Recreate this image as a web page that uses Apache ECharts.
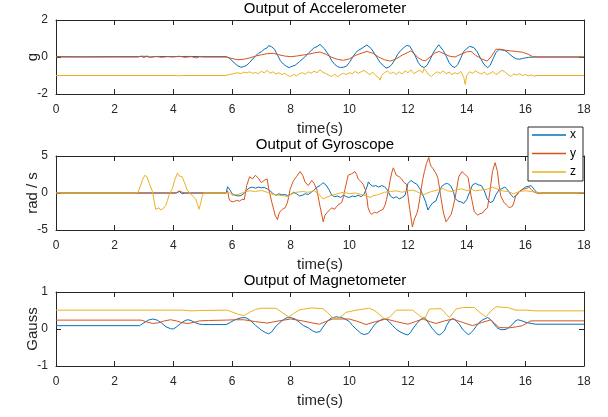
<!DOCTYPE html>
<html>
<head>
<meta charset="utf-8">
<script src="https://cdn.jsdelivr.net/npm/echarts@6/dist/echarts.min.js"></script>
<style>html,body{margin:0;padding:0;background:#fff;}#c{width:608px;height:417px;}</style>
</head>
<body>
<div id="c"></div>
<script>
// ---------- data: [time(s), value] ----------
const titles = ['Output of Accelerometer', 'Output of Gyroscope', 'Output of Magnetometer'];
const yNames = ['g', 'rad / s', 'Gauss'];
const seriesNames = ['x', 'y', 'z'];
const xTicks = [0, 18, 2];          // min, max, interval
const yRanges = [[-2, 2, 2], [-5, 5, 5], [-1, 1, 1]];

const accX = [[0,0.02],[1,0.01],[2,0.02],[2.8,0.02],[3,0.04],[3.2,0.0],[3.5,0.03],[4,0.02],[4.5,0.03],[5,0.02],[5.8,0.02],
[5.9,-0.05],[6.0,-0.2],[6.1,-0.35],[6.2,-0.48],[6.3,-0.55],[6.4,-0.52],[6.5,-0.45],[6.6,-0.3],[6.7,-0.12],[6.8,0.05],[6.9,0.2],[7.0,0.28],[7.1,0.42],[7.2,0.5],[7.25,0.62],[7.3,0.66],[7.35,0.55],[7.45,0.42],[7.55,0.1],[7.65,-0.2],[7.75,-0.38],[7.85,-0.5],[7.95,-0.57],[8.05,-0.5],[8.15,-0.45],[8.3,-0.25],[8.45,-0.05],[8.6,0.2],[8.7,0.35],[8.8,0.5],[8.9,0.56],[9.0,0.68],[9.05,0.6],[9.15,0.45],[9.3,0.1],[9.4,-0.2],[9.5,-0.4],[9.6,-0.52],[9.7,-0.57],[9.8,-0.55],[9.9,-0.5],[10.0,-0.3],[10.1,-0.05],[10.2,0.2],[10.3,0.35],[10.4,0.44],[10.5,0.55],[10.6,0.65],[10.65,0.62],[10.75,0.45],[10.85,0.2],[10.95,-0.05],[11.05,-0.3],[11.15,-0.45],[11.25,-0.6],[11.35,-0.55],[11.45,-0.4],[11.55,-0.15],[11.65,0.15],[11.75,0.35],[11.85,0.5],[11.95,0.62],[12.0,0.68],[12.05,0.6],[12.15,0.35],[12.25,0.05],[12.35,-0.3],[12.45,-0.5],[12.55,-0.57],[12.65,-0.45],[12.75,-0.15],[12.85,0.2],[12.95,0.45],[13.05,0.66],[13.1,0.6],[13.2,0.35],[13.3,0.05],[13.4,-0.3],[13.5,-0.5],[13.6,-0.57],[13.7,-0.4],[13.8,-0.05],[13.9,0.3],[14.0,0.45],[14.1,0.58],[14.15,0.6],[14.25,0.5],[14.35,0.3],[14.45,0.0],[14.55,-0.3],[14.65,-0.5],[14.72,-0.57],[14.8,-0.45],[14.9,-0.1],[15.0,0.25],[15.1,0.4],[15.2,0.38],[15.3,0.35],[15.4,0.25],[15.5,0.1],[15.6,-0.02],[15.7,-0.1],[15.8,-0.12],[15.9,-0.08],[16.0,-0.05],[16.1,-0.02],[16.3,0.0],[17,0.0],[18,0.0]];

const accY = [[0,0],[2.8,0],[2.9,0.05],[3.0,-0.03],[3.1,0.06],[3.2,-0.02],[3.4,0.03],[3.6,-0.02],[3.8,0.02],[4.0,0.0],[4.2,0.04],[4.4,-0.02],[4.6,0.02],[4.8,-0.05],[4.9,0.02],[5.0,0],[5.8,0],[6.0,-0.08],[6.2,-0.15],[6.4,-0.12],[6.6,-0.05],[6.8,0.05],[7.0,0.12],[7.2,0.18],[7.4,0.2],[7.6,0.12],[7.8,0.05],[8.0,0.02],[8.2,0.05],[8.4,0.1],[8.6,0.15],[8.8,0.22],[9.0,0.27],[9.2,0.15],[9.4,-0.02],[9.6,-0.13],[9.8,-0.18],[10.0,-0.1],[10.2,0.08],[10.4,0.2],[10.6,0.3],[10.8,0.2],[11.0,0.0],[11.2,-0.15],[11.4,-0.22],[11.6,-0.1],[11.8,0.1],[12.0,0.25],[12.1,0.33],[12.2,0.2],[12.35,-0.05],[12.5,-0.18],[12.6,-0.2],[12.75,0.0],[12.9,0.2],[13.05,0.3],[13.2,0.2],[13.4,0.05],[13.6,0.0],[13.8,0.15],[14.0,0.28],[14.15,0.3],[14.3,0.1],[14.5,-0.1],[14.7,-0.22],[14.85,0.05],[15.0,0.42],[15.05,0.5],[15.15,0.42],[15.3,0.37],[15.5,0.33],[15.7,0.3],[15.9,0.26],[16.1,0.15],[16.25,0.02],[16.4,0],[18,0]];

const accZ = [[0,-1],[4.1,-1],[4.15,-0.96],[4.2,-1.02],[4.3,-1],[5.8,-1],[5.85,-1.05],
[5.9,-0.95],[6.0,-0.92],[6.1,-0.88],[6.2,-0.85],[6.3,-0.9],[6.4,-0.82],[6.5,-0.86],[6.6,-0.8],[6.7,-0.88],[6.8,-0.84],[6.9,-0.9],[7.0,-0.78],[7.1,-0.85],[7.2,-0.72],[7.3,-0.88],[7.4,-0.8],[7.5,-0.92],[7.6,-0.85],[7.7,-0.95],[7.8,-0.88],[7.9,-1.0],[8.0,-1.05],[8.1,-0.95],[8.2,-1.02],[8.3,-0.9],[8.4,-0.85],[8.5,-0.93],[8.6,-0.8],[8.7,-0.88],[8.8,-0.76],[8.9,-0.85],[9.0,-0.7],[9.1,-0.82],[9.2,-0.9],[9.3,-0.98],[9.4,-1.05],[9.5,-0.92],[9.6,-1.08],[9.7,-0.95],[9.8,-0.88],[9.9,-0.95],[10.0,-0.85],[10.1,-0.9],[10.2,-0.78],[10.3,-0.88],[10.4,-0.8],[10.5,-0.72],[10.6,-0.85],[10.7,-0.95],[10.8,-0.82],[10.9,-1.0],[11.0,-1.12],[11.05,-1.25],[11.1,-1.0],[11.2,-0.85],[11.3,-0.75],[11.4,-0.9],[11.5,-0.82],[11.6,-0.95],[11.7,-0.8],[11.8,-0.92],[11.9,-0.75],[12.0,-0.85],[12.1,-0.7],[12.2,-0.9],[12.3,-0.8],[12.4,-0.72],[12.5,-0.85],[12.55,-0.62],[12.6,-0.7],[12.7,-0.95],[12.8,-1.05],[12.9,-0.9],[13.0,-0.8],[13.1,-0.88],[13.2,-0.75],[13.3,-0.9],[13.4,-0.82],[13.5,-0.95],[13.6,-0.85],[13.7,-0.92],[13.8,-0.78],[13.9,-1.1],[13.95,-1.48],[14.0,-1.0],[14.1,-0.8],[14.2,-0.88],[14.3,-0.75],[14.4,-0.85],[14.5,-0.92],[14.6,-0.82],[14.7,-0.95],[14.8,-0.88],[14.9,-0.78],[15.0,-0.95],[15.1,-0.85],[15.2,-0.72],[15.3,-0.8],[15.4,-0.95],[15.5,-1.05],[15.6,-0.92],[15.7,-0.98],[15.8,-0.9],[15.9,-1.0],[16.0,-0.95],[16.1,-1.02],[16.2,-0.97],[16.3,-1.03],[16.4,-1],[18,-1]];

const gyrX = [[0,0],[4.1,0],[4.2,0.2],[4.3,-0.1],[4.4,0],[5.8,0],[5.85,0.85],[5.9,0.6],[5.95,0.3],[6.0,-0.1],[6.1,-0.3],[6.2,-0.4],[6.3,-0.35],[6.4,-0.1],[6.5,0.4],[6.6,0.7],[6.7,0.8],[6.8,0.65],[6.9,0.8],[7.0,0.7],[7.1,0.75],[7.2,0.55],[7.3,0.3],[7.4,-0.1],[7.5,-0.3],[7.6,-0.1],[7.7,-0.25],[7.8,-0.2],[7.9,-0.35],[8.0,-0.2],[8.1,0.1],[8.2,-0.1],[8.3,-0.4],[8.4,-0.3],[8.5,-0.1],[8.6,-0.2],[8.7,0.1],[8.8,0.4],[8.9,0.8],[9.0,1.0],[9.1,1.4],[9.2,1.1],[9.3,0.5],[9.4,-0.3],[9.5,-0.5],[9.6,-0.4],[9.7,-0.6],[9.8,-0.3],[9.9,-0.5],[10.0,-0.6],[10.1,-0.4],[10.2,-0.5],[10.3,-0.3],[10.4,-0.5],[10.5,-0.2],[10.6,0.8],[10.65,1.5],[10.7,1.2],[10.8,0.9],[10.9,1.0],[11.0,0.8],[11.1,1.0],[11.2,0.85],[11.3,0.4],[11.4,-0.4],[11.5,-0.7],[11.6,-0.5],[11.7,-0.8],[11.8,-0.6],[11.9,-0.3],[12.0,1.3],[12.1,1.7],[12.2,1.4],[12.3,1.2],[12.4,0.6],[12.5,-0.2],[12.6,-1.2],[12.68,-2.3],[12.75,-1.8],[12.85,-1.3],[12.95,-1.1],[13.05,0.0],[13.15,0.9],[13.25,1.2],[13.35,1.3],[13.45,1.0],[13.55,0.2],[13.6,-0.7],[13.7,-1.1],[13.8,-1.2],[13.9,-1.4],[14.0,-0.9],[14.1,0.1],[14.2,1.1],[14.3,1.3],[14.4,1.1],[14.5,1.0],[14.6,0.3],[14.7,-0.8],[14.8,-1.3],[14.9,-1.1],[15.0,-0.2],[15.1,0.4],[15.2,0.6],[15.3,0.8],[15.4,0.4],[15.5,-0.2],[15.6,-0.6],[15.7,-0.3],[15.8,0.2],[15.9,0.5],[16.0,0.8],[16.1,0.9],[16.2,1.0],[16.3,0.5],[16.4,0],[18,0]];

const gyrY = [[0,0],[4.1,0],[4.2,0.3],[4.3,0.1],[4.4,0],[5.8,0],[5.85,0.3],[5.9,-0.8],[5.95,-1.1],[6.05,-1.2],[6.15,-1.0],[6.25,-1.1],[6.35,-0.85],[6.42,-0.9],[6.5,1.0],[6.6,2.2],[6.7,1.9],[6.8,2.4],[6.9,2.0],[7.0,1.4],[7.05,1.2],[7.13,1.8],[7.2,1.9],[7.25,0.6],[7.36,-1.3],[7.42,-2.2],[7.47,-3.0],[7.55,-3.6],[7.6,-2.8],[7.64,-2.5],[7.72,-2.2],[7.81,-2.0],[7.88,-1.4],[7.93,-0.6],[7.98,0.5],[8.1,1.7],[8.2,2.2],[8.32,2.9],[8.41,2.4],[8.49,1.5],[8.6,1.0],[8.72,1.7],[8.8,1.3],[8.89,0.5],[9.0,-1.8],[9.11,-3.9],[9.17,-3.0],[9.23,-2.7],[9.3,-2.4],[9.4,-2.0],[9.5,-2.2],[9.57,-1.8],[9.65,-1.5],[9.74,-1.3],[9.8,-0.5],[9.85,0.5],[9.96,2.4],[10.08,2.6],[10.19,2.9],[10.25,2.5],[10.3,1.9],[10.38,1.6],[10.47,1.2],[10.55,0.4],[10.59,-0.4],[10.64,-2.0],[10.7,-2.6],[10.76,-2.9],[10.85,-2.6],[10.93,-2.7],[11.05,-2.4],[11.15,-2.2],[11.22,-1.6],[11.27,-0.85],[11.33,0.3],[11.38,1.5],[11.45,2.8],[11.5,3.4],[11.55,2.9],[11.6,2.4],[11.7,2.2],[11.78,1.9],[11.87,1.4],[11.95,1.2],[12.0,-0.4],[12.06,-2.2],[12.15,-4.6],[12.2,-3.8],[12.23,-3.4],[12.3,-2.8],[12.34,-2.2],[12.4,-0.8],[12.45,0.55],[12.5,1.8],[12.56,2.9],[12.63,4.0],[12.71,4.8],[12.75,4.0],[12.79,3.6],[12.85,3.3],[12.9,3.1],[12.96,2.6],[13.02,2.0],[13.08,0.5],[13.13,-0.85],[13.21,-2.7],[13.3,-3.9],[13.35,-3.6],[13.41,-3.7],[13.47,-2.9],[13.53,-2.0],[13.6,-0.8],[13.64,0.1],[13.73,2.2],[13.84,2.9],[13.92,2.6],[13.98,2.4],[14.05,2.1],[14.09,2.0],[14.15,-0.4],[14.26,-2.5],[14.37,-3.0],[14.45,-2.8],[14.54,-2.7],[14.62,-2.3],[14.71,-2.0],[14.75,-1.0],[14.79,0.1],[14.88,2.9],[14.97,4.1],[15.01,3.5],[15.05,2.9],[15.1,1.2],[15.16,-0.4],[15.28,-1.3],[15.38,-1.7],[15.45,-2.0],[15.56,-1.8],[15.62,-1.2],[15.67,-0.4],[15.79,0.2],[15.87,0.4],[15.95,0.55],[16.05,0.6],[16.12,0.8],[16.2,0.5],[16.3,0.1],[16.4,0],[18,0]];

const gyrZ = [[0,0],[2.7,0],[2.8,0.1],[2.89,1.08],[2.95,1.8],[3.03,2.4],[3.1,2.2],[3.18,1.3],[3.29,0.2],[3.35,-1.2],[3.4,-2.2],[3.45,-2.0],[3.51,-2.0],[3.57,-2.3],[3.63,-2.4],[3.68,-2.0],[3.74,-1.7],[3.8,-1.0],[3.85,-0.3],[3.97,0.6],[4.05,1.8],[4.14,2.7],[4.2,2.3],[4.23,2.1],[4.3,2.2],[4.36,2.0],[4.42,1.0],[4.47,0.4],[4.59,-0.1],[4.68,-0.5],[4.76,-0.8],[4.83,-1.6],[4.87,-2.2],[4.92,-1.6],[4.98,-0.5],[5.04,0],[5.8,0],
[5.9,0.1],[6.0,-0.3],[6.2,-0.2],[6.4,0.1],[6.6,0.3],[6.8,0.2],[7.0,0.35],[7.2,0.1],[7.4,-0.2],[7.6,-0.3],[7.8,-0.4],[7.9,-0.5],[8.0,-0.2],[8.2,0.1],[8.4,0.2],[8.6,0.1],[8.8,0.3],[8.95,-0.1],[9.1,-0.8],[9.2,-0.6],[9.4,-0.3],[9.6,-0.1],[9.8,0.1],[10.0,-0.1],[10.2,0.0],[10.4,-0.2],[10.6,-0.4],[10.7,-0.6],[10.8,-0.4],[11.0,-0.2],[11.2,0.1],[11.4,0.2],[11.6,0.3],[11.8,0.1],[12.0,0.3],[12.15,0.4],[12.3,0.2],[12.5,-0.3],[12.6,-0.1],[12.8,0.2],[13.0,0.4],[13.2,0.6],[13.35,0.3],[13.5,0.2],[13.7,0.5],[13.85,0.55],[14.0,0.3],[14.15,0.5],[14.3,0.3],[14.5,0.4],[14.7,0.5],[14.88,0.8],[15.0,0.6],[15.2,0.3],[15.4,0.2],[15.6,-0.1],[15.8,0.2],[16.0,0.3],[16.2,0.2],[16.4,0.1],[16.6,0],[18,0]];

const magX = [[0,0.09],[2.85,0.09],[3.0,0.17],[3.15,0.24],[3.3,0.27],[3.45,0.24],[3.6,0.16],[3.75,0.06],[3.9,0.01],[4.0,0.0],[4.1,0.05],[4.25,0.15],[4.4,0.23],[4.5,0.25],[4.6,0.23],[4.75,0.17],[4.9,0.13],[5.0,0.12],[5.8,0.12],[5.95,0.18],[6.1,0.25],[6.3,0.3],[6.45,0.31],[6.6,0.25],[6.8,0.1],[7.0,-0.03],[7.15,-0.1],[7.25,-0.13],[7.35,-0.08],[7.5,0.08],[7.7,0.22],[7.85,0.3],[8.0,0.31],[8.15,0.27],[8.3,0.18],[8.44,0.09],[8.6,0.03],[8.75,-0.05],[8.86,-0.09],[9.0,-0.07],[9.1,0.05],[9.26,0.22],[9.4,0.3],[9.55,0.33],[9.77,0.3],[9.9,0.25],[10.0,0.2],[10.1,0.1],[10.23,0.0],[10.4,-0.12],[10.51,-0.15],[10.65,-0.12],[10.8,0.05],[10.9,0.15],[11.02,0.22],[11.15,0.27],[11.25,0.27],[11.35,0.2],[11.48,0.09],[11.62,-0.02],[11.76,-0.09],[11.9,-0.14],[12.0,-0.16],[12.08,-0.1],[12.16,0.0],[12.3,0.15],[12.45,0.27],[12.56,0.31],[12.65,0.22],[12.73,0.13],[12.82,0.02],[12.9,-0.05],[13.0,-0.14],[13.07,-0.16],[13.15,-0.12],[13.24,-0.05],[13.32,0.1],[13.41,0.22],[13.5,0.27],[13.58,0.27],[13.66,0.2],[13.75,0.13],[13.85,0.0],[13.92,-0.05],[14.0,-0.12],[14.07,-0.15],[14.15,-0.1],[14.23,-0.03],[14.33,0.08],[14.43,0.18],[14.55,0.25],[14.72,0.31],[14.82,0.25],[14.94,0.13],[15.03,0.04],[15.11,0.0],[15.2,-0.02],[15.34,-0.01],[15.45,0.05],[15.57,0.13],[15.65,0.21],[15.74,0.25],[15.85,0.23],[16.02,0.18],[16.2,0.15],[16.36,0.13],[18,0.13]];

const magY = [[0,0.24],[2.9,0.24],[3.1,0.19],[3.3,0.15],[3.5,0.17],[3.7,0.22],[3.9,0.25],[4.1,0.22],[4.3,0.17],[4.5,0.15],[4.7,0.18],[4.9,0.22],[5.2,0.23],[5.8,0.24],[6.1,0.25],[6.4,0.25],[6.8,0.2],[7.2,0.16],[7.6,0.22],[8.0,0.27],[8.4,0.22],[8.7,0.17],[8.98,0.13],[9.2,0.2],[9.43,0.27],[10.0,0.27],[10.3,0.2],[10.57,0.12],[10.9,0.2],[11.25,0.27],[11.6,0.2],[12.0,0.13],[12.25,0.2],[12.5,0.27],[12.75,0.2],[12.95,0.15],[13.25,0.22],[13.52,0.27],[13.85,0.18],[14.2,0.09],[14.5,0.17],[14.83,0.25],[14.95,0.15],[15.11,0.04],[15.45,0.03],[15.7,0.06],[15.9,0.09],[16.05,0.16],[16.19,0.22],[18,0.22]];

const magZ = [[0,0.51],[4.3,0.51],[4.6,0.49],[4.9,0.5],[5.84,0.51],[6.0,0.46],[6.2,0.4],[6.4,0.36],[6.6,0.45],[6.8,0.53],[7.0,0.56],[7.5,0.56],[7.7,0.45],[7.93,0.33],[8.1,0.42],[8.3,0.52],[8.7,0.57],[9.1,0.55],[9.25,0.45],[9.43,0.31],[9.6,0.27],[9.75,0.36],[9.89,0.45],[10.23,0.51],[10.68,0.56],[10.85,0.5],[10.97,0.43],[11.2,0.27],[11.36,0.31],[11.6,0.51],[12.16,0.51],[12.39,0.36],[12.56,0.27],[12.73,0.54],[13.13,0.55],[13.3,0.4],[13.41,0.31],[13.64,0.54],[13.86,0.58],[14.26,0.58],[14.49,0.42],[14.66,0.33],[14.83,0.49],[15.0,0.6],[15.4,0.58],[15.68,0.51],[16.02,0.51],[16.36,0.49],[18,0.49]];

const panels = [[accX, accY, accZ], [gyrX, gyrY, gyrZ], [magX, magY, magZ]];

// ---------- styling / layout ----------
const colors = ['#0072BD', '#D95319', '#EDB120'];
const axisColor = '#262626';
const FONT = 'Liberation Sans, Arial, Helvetica, sans-serif';
const gridTops = [20, 156, 292];
const GRID_H = 74, GRID_L = 56, GRID_W = 528;

const grid = [], xAxis = [], yAxis = [], series = [], title = [];
gridTops.forEach((top, i) => {
  grid.push({left: GRID_L, top: top, width: GRID_W, height: GRID_H, containLabel: false});
  title.push({text: titles[i], left: GRID_L + GRID_W / 2, top: top - 24, textAlign: 'center',
    textStyle: {fontFamily: FONT, fontSize: 15, fontWeight: 'normal', color: '#000'}});
  const common = {type: 'value', gridIndex: i, min: xTicks[0], max: xTicks[1], interval: xTicks[2],
    splitLine: {show: false},
    axisLine: {show: true, onZero: false, lineStyle: {color: axisColor, width: 1}},
    axisTick: {show: true, inside: true, length: 5, lineStyle: {color: axisColor}}};
  xAxis.push(Object.assign({}, common, {position: 'bottom',
    name: 'time(s)', nameLocation: 'middle', nameGap: 27, nameMoveOverlap: false,
    nameTextStyle: {fontFamily: FONT, fontSize: 15, color: axisColor},
    axisLabel: {show: true, margin: 10, fontFamily: FONT, fontSize: 12, color: axisColor}}));
  xAxis.push(Object.assign({}, common, {position: 'top', axisLabel: {show: false}}));
  const yr = yRanges[i];
  const ycommon = {type: 'value', gridIndex: i, min: yr[0], max: yr[1], interval: yr[2],
    splitLine: {show: false},
    axisLine: {show: true, onZero: false, lineStyle: {color: axisColor, width: 1}},
    axisTick: {show: true, inside: true, length: 5, lineStyle: {color: axisColor}}};
  yAxis.push(Object.assign({}, ycommon, {position: 'left',
    name: yNames[i], nameLocation: 'middle', nameGap: 16, nameRotate: 90, nameMoveOverlap: false,
    nameTextStyle: {fontFamily: FONT, fontSize: 15, color: axisColor},
    axisLabel: {show: true, margin: 8, fontFamily: FONT, fontSize: 12, color: axisColor}}));
  yAxis.push(Object.assign({}, ycommon, {position: 'right', axisLabel: {show: false}}));
  panels[i].forEach((d, k) => {
    series.push({type: 'line', name: seriesNames[k], xAxisIndex: 2 * i, yAxisIndex: 2 * i,
      data: d, showSymbol: false, symbol: 'none', smooth: false,
      lineStyle: {color: colors[k], width: 1}, itemStyle: {color: colors[k]},
      emphasis: {disabled: true}});
  });
});

const chart = echarts.init(document.getElementById('c'), null, {renderer: 'canvas'});
chart.setOption({
  animation: false,
  backgroundColor: '#fff',
  title: title,
  grid: grid,
  xAxis: xAxis,
  yAxis: yAxis,
  legend: {data: seriesNames, orient: 'vertical', left: 528, top: 127,
    icon: 'rect', itemWidth: 34, itemHeight: 1.5, itemGap: 6.5,
    padding: [2, 7, 3, 4], backgroundColor: '#fff', borderColor: axisColor, borderWidth: 1,
    textStyle: {fontFamily: FONT, fontSize: 12, color: '#000', padding: [0, 0, 0, -1]},
    z: 10},
  series: series
});
</script>
</body>
</html>
